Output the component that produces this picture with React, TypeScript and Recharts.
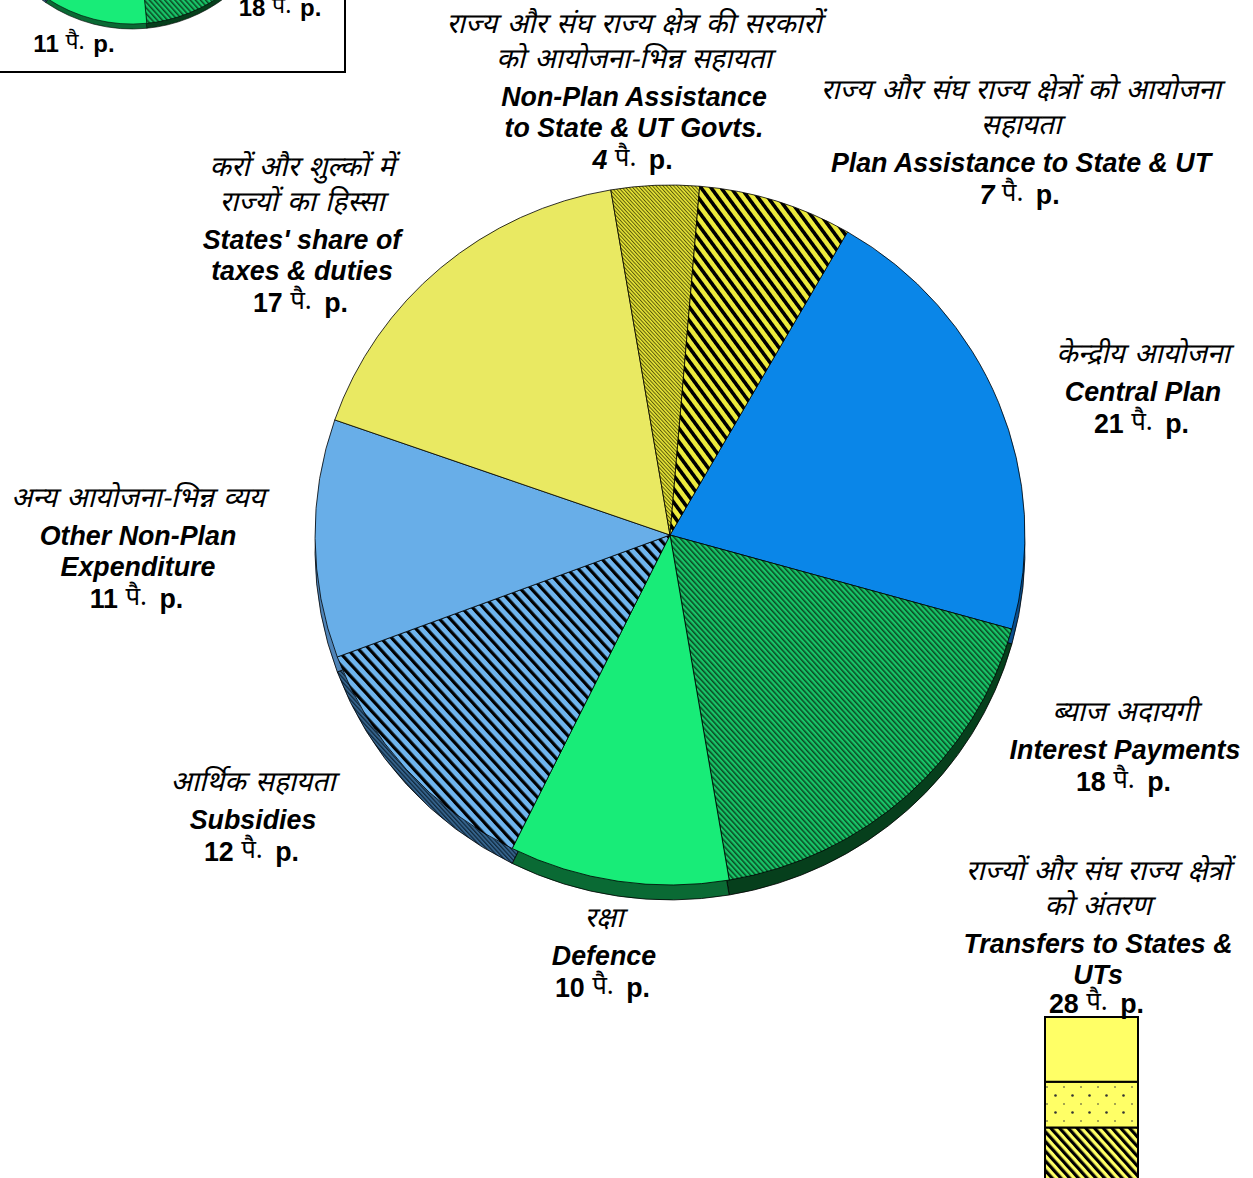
import { BarChart, Bar, YAxis, PieChart, Pie, Cell } from "recharts";

// main pie: paise out of a rupee, clockwise from the top right slice
const sliceNames = ["Central Plan", "Interest Payments", "Defence", "Subsidies", "Other Non-Plan Expenditure", "States' share", "Non-Plan Assistance", "Plan Assistance"];
const sliceValues = [21, 18, 10, 12, 11, 17, 4, 7];
const hindiLines = [
  ["केन्द्रीय आयोजना"],
  ["ब्याज अदायगी"],
  ["रक्षा"],
  ["आर्थिक सहायता"],
  ["अन्य आयोजना-भिन्न व्यय"],
  ["करों और शुल्कों में", "राज्यों का हिस्सा"],
  ["राज्य और संघ राज्य क्षेत्र की सरकारों", "को आयोजना-भिन्न सहायता"],
  ["राज्य और संघ राज्य क्षेत्रों को आयोजना", "सहायता"],
];
const englishLines = [
  ["Central Plan"],
  ["Interest Payments"],
  ["Defence"],
  ["Subsidies"],
  ["Other Non-Plan", "Expenditure"],
  ["States' share of", "taxes & duties"],
  ["Non-Plan Assistance", "to State & UT Govts."],
  ["Plan Assistance to State & UT"],
];

// inset pie, mostly above the page: only the two lower labels can be read
const insetValues = [20, 18, 11, 12, 11, 17, 4, 7];
const insetLabels = [
  { value: 18, x: 280, y: 16 },
  { value: 11, x: 74, y: 52 },
];

// stacked bar that breaks up the transfers slice
const transferSegments = [{ name: "28", hatched: 14, dotted: 12, plain: 17 }];

const topFills = ["#0A86E8", "url(#interest)", "#18EC78", "url(#subsidy)", "#68AEE8", "#E9E962", "url(#nonplan)", "url(#planassist)"];
const sideFills = ["#0A4E8C", "#063F1C", "#0A6A34", "url(#subsidySide)", "#4F84B8", "#9a9a30", "#77770f", "#77770f"];

// label anchor per slice: centre x, first baseline
const labelSpots = [
  [1143, 363],
  [1125, 721],
  [604, 927],
  [253, 791],
  [138, 507],
  [302, 176],
  [634, 33],
  [1021, 99],
];

const SANS = "'Liberation Sans', Arial, sans-serif";
const DEVA = "'Noto Sans', 'Liberation Sans', sans-serif";

function ValueLine({ x, y, value, italic, size = 26.8, gap = 5 }: { x: number; y: number; value: number; italic?: boolean; size?: number; gap?: number }) {
  return (
    <text x={x} y={y} textAnchor="middle" fontFamily={SANS} fontWeight={700} fontSize={size} fill="#000">
      <tspan fontStyle={italic ? "italic" : "normal"}>{value} </tspan>
      <tspan fontFamily={DEVA} fontWeight={400} fontSize={size - 1} dy={-3}>पै.</tspan>
      <tspan dy={3} dx={gap}> p.</tspan>
    </text>
  );
}

function BlockLabel({ x, y, hindi, english, value, italic, valueGap = 32 }: { x: number; y: number; hindi: string[]; english: string[]; value: number; italic?: boolean; valueGap?: number }) {
  const hindiStep = 35;
  const englishStep = 31.5;
  const firstEnglish = y + (hindi.length - 1) * hindiStep + 37.5;
  const valueY = firstEnglish + (english.length - 1) * englishStep + valueGap;
  return (
    <g>
      {hindi.map((line, i) => (
        // the Devanagari fallback has no italic face, so lean it by hand
        <text key={line} transform={`translate(${x} ${y + i * hindiStep}) skewX(-14)`} textAnchor="middle" fontFamily={DEVA} fontSize={28} wordSpacing={2} fill="#000">
          {line}
        </text>
      ))}
      {english.map((line, i) => (
        <text key={line} x={x} y={firstEnglish + i * englishStep} textAnchor="middle" fontFamily={SANS} fontStyle="italic" fontWeight={700} fontSize={26.8} fill="#000">
          {line}
        </text>
      ))}
      <ValueLine x={x - 1.5} y={valueY} value={value} italic={italic} />
    </g>
  );
}

function Stripes({ id, size, band, base, ink, angle = -42 }: { id: string; size: number; band: number; base: string; ink: string; angle?: number }) {
  return (
    <pattern id={id} width={size} height={size} patternUnits="userSpaceOnUse" patternTransform={`rotate(${angle})`}>
      <rect width={size} height={size} fill={base} />
      <rect width={band} height={size} fill={ink} />
    </pattern>
  );
}

const pieData = sliceValues.map((value, i) => ({ name: sliceNames[i], value }));
const insetData = insetValues.map((value, i) => ({ name: sliceNames[i], value }));

export default function App() {
  return (
    <div style={{ position: "fixed", left: 0, top: 0, width: 1253, height: 1178, overflow: "hidden", background: "#fff" }}>
      <div style={{ position: "absolute", left: -4, top: -4, width: 346, height: 73, border: "2px solid #000" }} />

      {/* inset pie, side then top */}
      <div style={{ position: "absolute", left: 0, top: 0 }}>
        <PieChart width={360} height={90} margin={{ top: 0, right: 0, bottom: 0, left: 0 }}>
          <defs>
            <Stripes id="interest" size={3.8} band={1.5} base="#18C468" ink="#0A4A22" />
            <Stripes id="nonplan" size={2.6} band={1} base="#E8E637" ink="#5A5A0A" />
            <Stripes id="planassist" size={8} band={3.6} base="#EDEB3C" ink="#000" angle={-36} />
            <Stripes id="subsidy" size={8} band={3.2} base="#6FB5EE" ink="#000" />
            <Stripes id="subsidySide" size={3} band={1.2} base="#35638C" ink="#10283C" />
            <Stripes id="hatch" size={6.5} band={3.2} base="#FFFF66" ink="#000" />
            <pattern id="dots" width={17} height={17} patternUnits="userSpaceOnUse">
              <rect width={17} height={17} fill="#FFFF66" />
              <circle cx={3} cy={3} r={0.8} fill="#333" />
              <circle cx={11.5} cy={11.5} r={1.3} fill="#333" />
            </pattern>
          </defs>
          <Pie data={insetData} dataKey="value" cx={132} cy={-125} outerRadius={154} startAngle={52.3} endAngle={-307.7} stroke="#000" strokeWidth={0.6} isAnimationActive={false} legendType="none">
            {insetData.map((d, i) => (
              <Cell key={d.name} fill={sideFills[i]} />
            ))}
          </Pie>
          <Pie data={insetData} dataKey="value" cx={132} cy={-130} outerRadius={154} startAngle={52.3} endAngle={-307.7} stroke="#000" strokeWidth={0.6} isAnimationActive={false} legendType="none">
            {insetData.map((d, i) => (
              <Cell key={d.name} fill={topFills[i]} />
            ))}
          </Pie>
        </PieChart>
      </div>

      {/* main pie, side then top; the original is a little wider than tall */}
      <div style={{ position: "absolute", left: 0, top: 0, transform: "scale(1.0085, 0.9943)", transformOrigin: "670px 535px" }}>
        <PieChart width={1253} height={1178} margin={{ top: 0, right: 0, bottom: 0, left: 0 }}>
          <Pie data={pieData} dataKey="value" cx={670} cy={550} outerRadius={352} startAngle={60} endAngle={-300} stroke="#000" strokeWidth={0.8} isAnimationActive={false} legendType="none">
            {pieData.map((d, i) => (
              <Cell key={d.name} fill={sideFills[i]} />
            ))}
          </Pie>
          <Pie data={pieData} dataKey="value" cx={670} cy={535} outerRadius={352} startAngle={60} endAngle={-300} stroke="#000" strokeWidth={0.8} isAnimationActive={false} legendType="none">
            {pieData.map((d, i) => (
              <Cell key={d.name} fill={topFills[i]} />
            ))}
          </Pie>
        </PieChart>
      </div>

      <div style={{ position: "absolute", left: 1044, top: 1016 }}>
        <BarChart width={95} height={166} data={transferSegments} margin={{ top: 1, right: 1, bottom: 1, left: 1 }} barCategoryGap={0}>
          <YAxis hide domain={[0, 43]} />
          <Bar dataKey="hatched" stackId="t" fill="url(#hatch)" stroke="#000" strokeWidth={2} isAnimationActive={false} />
          <Bar dataKey="dotted" stackId="t" fill="url(#dots)" stroke="#000" strokeWidth={2} isAnimationActive={false} />
          <Bar dataKey="plain" stackId="t" fill="#FFFF66" stroke="#000" strokeWidth={2} isAnimationActive={false} />
        </BarChart>
      </div>

      <svg width={1253} height={1178} style={{ position: "absolute", left: 0, top: 0, pointerEvents: "none" }}>
        {labelSpots.map(([x, y], i) => (
          <BlockLabel key={sliceNames[i]} x={x} y={y} hindi={hindiLines[i]} english={englishLines[i]} value={sliceValues[i]} italic={sliceValues[i] < 10} />
        ))}
        <BlockLabel x={1098} y={880} hindi={["राज्यों और संघ राज्य क्षेत्रों", "को अंतरण"]} english={["Transfers to States &", "UTs"]} value={28} valueGap={29} />
        {insetLabels.map((d) => (
          <ValueLine key={d.value} x={d.x} y={d.y} value={d.value} size={24} gap={2} />
        ))}
      </svg>
    </div>
  );
}
